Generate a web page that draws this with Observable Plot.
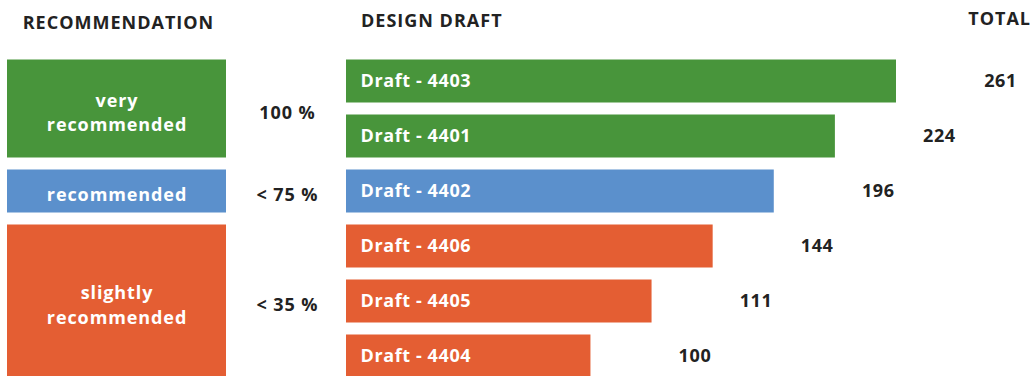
<!DOCTYPE html>
<html><head><meta charset="utf-8">
<script src="https://cdn.jsdelivr.net/npm/d3@7"></script>
<script src="https://cdn.jsdelivr.net/npm/@observablehq/plot@0.6"></script>
<style>
body{margin:0;background:#fff;font-family:"Open Sans",sans-serif;}
#wrap{position:relative;width:1036px;height:376px;overflow:hidden;}
.hdr{position:absolute;font-weight:700;font-size:18px;color:#222;line-height:20px;white-space:nowrap;letter-spacing:1px;}
#left{position:absolute;left:0;top:0;}
#right{position:absolute;left:346px;top:0;}
</style></head><body>
<div id="wrap">
  <div id="left"></div>
  <div id="right"></div>
  <div class="hdr" id="h1" style="left:0;width:237px;text-align:center;top:12px;"></div>
  <div class="hdr" id="h2" style="left:361px;top:10px;"></div>
  <div class="hdr" id="h3" style="right:5px;top:8px;"></div>
</div>
<script>
// ---- data ----
const headers = ["RECOMMENDATION", "DESIGN DRAFT", "TOTAL"];
const drafts = ["Draft - 4403", "Draft - 4401", "Draft - 4402", "Draft - 4406", "Draft - 4405", "Draft - 4404"];
const totals = [261, 224, 196, 144, 111, 100];
const barLength = [9, 8, 7, 6, 5, 4];
const draftLevel = ["very recommended", "very recommended", "recommended", "slightly recommended", "slightly recommended", "slightly recommended"];
const levels = ["very recommended", "recommended", "slightly recommended"];
const levelLabels = ["very\nrecommended", "recommended", "slightly\nrecommended"];
const levelShares = ["100 %", "< 75 %", "< 35 %"];
const levelColors = ["#48953b", "#5b90cc", "#e45e33"];

document.getElementById("h1").textContent = headers[0];
document.getElementById("h2").textContent = headers[1];
document.getElementById("h3").textContent = headers[2];

const rows = drafts.map((d, i) => ({draft: d, total: totals[i], len: barLength[i], level: draftLevel[i], i}));
const levelRows = levels.map((l, k) => {
  const idx = rows.filter(r => r.level === l).map(r => r.i);
  return {level: l, label: levelLabels[k], share: levelShares[k], start: d3.min(idx), end: d3.max(idx) + 1};
});

const yScale = {domain: [0, drafts.length], range: [53.5, 383.5], axis: null};
const color = {domain: levels, range: levelColors};
const font = "'Open Sans', sans-serif";

const left = Plot.plot({
  width: 346, height: 390, marginLeft: 7, marginRight: 120, marginTop: 0, marginBottom: 0,
  style: {fontFamily: font, background: "transparent", overflow: "visible", letterSpacing: "0.9px"},
  y: yScale, color,
  marks: [
    Plot.rect(levelRows, {y1: "start", y2: "end", fill: "level", insetTop: 6, insetBottom: 6}),
    Plot.text(levelRows, {y: d => (d.start + d.end) / 2, text: "label", fill: "white", fontSize: 18, fontWeight: 700, lineHeight: 1.37, dy: 2}),
    Plot.text(levelRows, {y: d => (d.start + d.end) / 2, text: "share", frameAnchor: "right", dx: 61, textAnchor: "middle", fill: "#222", fontSize: 18, fontWeight: 700, dy: 4})
  ]
});
document.getElementById("left").appendChild(left);

const right = Plot.plot({
  width: 690, height: 390, marginLeft: 0, marginRight: 140, marginTop: 0, marginBottom: 0,
  style: {fontFamily: font, background: "transparent", overflow: "visible", letterSpacing: "0.6px"},
  x: {domain: [0, 9], axis: null},
  y: yScale, color,
  marks: [
    Plot.rectX(rows, {x: "len", y1: "i", y2: d => d.i + 1, fill: "level", insetTop: 6, insetBottom: 6}),
    Plot.text(rows, {x: 0, y: d => d.i + 0.5, text: "draft", textAnchor: "start", dx: 14, fill: "white", fontSize: 18, fontWeight: 700}),
    Plot.text(rows, {x: "len", y: d => d.i + 0.5, text: d => String(d.total), textAnchor: "middle", dx: 104, fill: "#222", fontSize: 18, fontWeight: 700})
  ]
});
document.getElementById("right").appendChild(right);
</script>
</body></html>
